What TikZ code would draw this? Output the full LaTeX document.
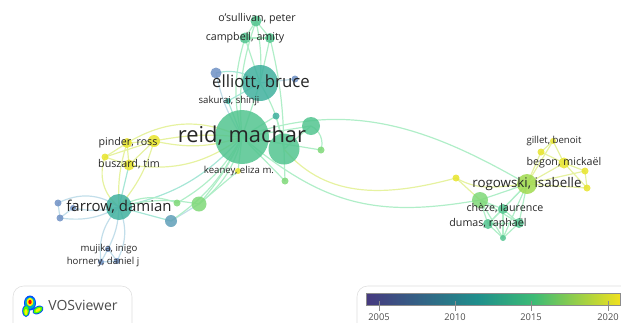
\documentclass[tikz,border=0pt]{standalone}
\usepackage{fontspec}
\setmainfont{Open Sans}
\usetikzlibrary{backgrounds}

\definecolor{cblue}{HTML}{6F90C4}
\definecolor{csteel}{HTML}{5F9FB8}
\definecolor{cteal}{HTML}{3FB09E}
\definecolor{cmint}{HTML}{52C48F}
\definecolor{cgreen}{HTML}{7FD878}
\definecolor{clime}{HTML}{A0DA4E}
\definecolor{cyell}{HTML}{E8E42C}
\definecolor{eblue}{HTML}{C2DEEA}
\definecolor{eteal}{HTML}{A6E6D6}
\definecolor{egreen}{HTML}{B0EEC8}
\definecolor{eyell}{HTML}{E6F2A0}
\definecolor{ltext}{HTML}{262626}
\definecolor{lframe}{HTML}{DDDDDD}
\definecolor{ya}{HTML}{46397F}
\definecolor{yb}{HTML}{1F8F8C}
\definecolor{yc}{HTML}{3CBB75}
\definecolor{yd}{HTML}{F0E11E}
\pgfdeclarehorizontalshading{yearbar}{100bp}{
  color(0bp)=(ya);
  color(25bp)=(ya);
  color(47bp)=(yb);
  color(58bp)=(yc);
  color(75bp)=(yd);
  color(100bp)=(yd)
}

\begin{document}
\begin{tikzpicture}[
    x=0.75pt, y=-0.75pt,
    every node/.style={text=ltext},
    dot/.style={circle, inner sep=0pt, minimum size=#1*0.75pt, fill opacity=0.85},
    lhuge/.style={font=\fontsize{16.4}{20}\selectfont},
    lbig/.style={font=\fontsize{12.6}{15}\selectfont},
    lmid/.style={font=\fontsize{11.2}{14}\selectfont},
    lrog/.style={font=\fontsize{10}{13}\selectfont},
    lsmall/.style={font=\fontsize{8}{10}\selectfont},
    ltiny/.style={font=\fontsize{7.2}{9}\selectfont},
    linkg/.style={egreen, line width=0.9pt},
    linkt/.style={eteal, line width=0.9pt},
    linkb/.style={eblue, line width=0.9pt},
    linky/.style={eyell, line width=0.9pt}
]
\clip (0,0) rectangle (621,322);
\useasboundingbox (0,0) rectangle (621,322);

% Top group
\node[dot=11, fill=cmint] (osull) at (256,21) {};
\node[dot=11, fill=cmint] (campa) at (245,38) {};
\node[dot=10, fill=cmint] (campb) at (270,38) {};
\node[dot=36, fill=cteal] (elliott) at (260,83) {};
\node[dot=11, fill=cblue] (bluea) at (216,73) {};
\node[dot=7, fill=cblue] (blueb) at (295,79) {};
\node[dot=6, fill=cteal] (sakurai) at (228,101) {};

% Centre group
\node[dot=54, fill=cmint] (reid) at (242,137) {};
\node[dot=31, fill=cmint] (reidb) at (284,149) {};
\node[dot=18, fill=cmint] (reidc) at (311,126) {};
\node[dot=7, fill=cteal] (reidd) at (276,116) {};
\node[dot=7, fill=cgreen] (reide) at (321,150) {};
\node[dot=7, fill=cgreen] (reidf) at (285,181) {};
\node[dot=6, fill=cyell] (keaney) at (238,171) {};

% Yellow group
\node[dot=10, fill=cyell] (pinder) at (127,143) {};
\node[dot=12, fill=cyell] (pinderb) at (154,141) {};
\node[dot=7, fill=cyell] (pinderc) at (105,157) {};
\node[dot=11, fill=cyell] (buszard) at (129,165) {};

% Farrow group
\node[dot=26, fill=cteal] (farrow) at (119,207) {};
\node[dot=7, fill=cblue] (farrowa) at (58,203) {};
\node[dot=6, fill=cblue] (farrowb) at (73,208) {};
\node[dot=7, fill=cblue] (farrowc) at (60,218) {};
\node[dot=12, fill=csteel] (farrowd) at (171,221) {};
\node[dot=15, fill=cgreen] (farrowe) at (199,204) {};
\node[dot=7, fill=cgreen] (farrowf) at (177,203) {};
\node[dot=6, fill=cblue] (mujika) at (108,249) {};
\node[dot=6, fill=cblue] (hornery) at (101,262) {};
\node[dot=6, fill=cblue] (horneryb) at (117,261) {};

% Right group
\node[dot=20, fill=clime] (rogowski) at (527,184) {};
\node[dot=16, fill=cgreen] (rogb) at (480,200) {};
\node[dot=7, fill=cyell] (roga) at (456,178) {};
\node[dot=6, fill=cyell] (gillet) at (553,141) {};
\node[dot=7, fill=cyell] (gilletb) at (541,152) {};
\node[dot=11, fill=cyell] (begon) at (564,163) {};
\node[dot=7, fill=cyell] (begonb) at (585,171) {};
\node[dot=7, fill=cyell] (begonc) at (587,188) {};
\node[dot=10, fill=cmint] (cheze) at (503,209) {};
\node[dot=10, fill=cmint] (dumas) at (488,224) {};
\node[dot=10, fill=cmint] (dumasb) at (519,223) {};
\node[dot=6, fill=cmint] (dumasc) at (503,238) {};

% Links
\begin{scope}[on background layer]
\draw[linkg] (osull.center) -- (campa.center);
\draw[linkg] (osull.center) -- (campb.center);
\draw[linkg] (osull.center) to[bend left=8] (elliott.center);
\draw[linkg] (osull.center) to[bend right=12] (reid.center);
\draw[linkg] (campa.center) -- (campb.center);
\draw[linkg] (campa.center) -- (elliott.center);
\draw[linkg] (campb.center) -- (elliott.center);
\draw[linkg] (campa.center) to[bend right=15] (reid.center);
\draw[linkg] (campb.center) to[bend left=6] (reidb.center);
\draw[linkt] (bluea.center) to[bend left=25] (elliott.center);
\draw[linkb] (bluea.center) to[bend right=10] (reid.center);
\draw[linkb] (blueb.center) -- (elliott.center);
\draw[linkt] (sakurai.center) -- (elliott.center);
\draw[linkt] (sakurai.center) -- (reid.center);
\draw[linkg] (elliott.center) -- (reid.center);
\draw[linkg] (elliott.center) to[bend left=10] (reidb.center);
\draw[linkg] (reidd.center) -- (reid.center);
\draw[linkg] (reidd.center) -- (reidb.center);
\draw[linkg] (reid.center) -- (reidc.center);
\draw[linkg] (reidb.center) -- (reidc.center);
\draw[linkg] (reidc.center) to[bend left=40] (reide.center);
\draw[linkg] (reid.center) -- (reide.center);
\draw[linkg] (reid.center) -- (reidf.center);
\draw[linkg] (reidb.center) -- (reidf.center);

\draw[linky] (pinder.center) to[bend left=28] (reid.center);
\draw[linky] (pinderb.center) to[bend left=8] (reid.center);
\draw[linky] (pinderb.center) to[bend right=15] (reid.center);
\draw[linky] (buszard.center) to[bend right=22] (reid.center);
\draw[linky] (pinder.center) -- (pinderb.center);
\draw[linky] (pinder.center) -- (buszard.center);
\draw[linky] (pinder.center) -- (pinderc.center);
\draw[linky] (pinderb.center) -- (buszard.center);
\draw[linky] (pinderb.center) -- (pinderc.center);
\draw[linky] (pinderc.center) -- (buszard.center);
\draw[linky] (pinderc.center) to[bend right=35] (farrow.center);
\draw[linky] (pinder.center) to[bend right=10] (farrow.center);
\draw[linky] (pinderb.center) to[bend left=12] (farrow.center);
\draw[linkt] (buszard.center) -- (farrow.center);
\draw[linkt] (farrow.center) to[bend right=18] (reid.center);

\draw[linkb] (farrow.center) to[bend right=30] (farrowa.center);
\draw[linkb] (farrow.center) to[bend left=12] (farrowb.center);
\draw[linkb] (farrow.center) to[bend left=18] (farrowc.center);
\draw[linkb] (farrowa.center) -- (farrowc.center);
\draw[linkb] (farrowb.center) -- (farrowc.center);
\draw[linkb] (farrow.center) to[bend left=12] (mujika.center);
\draw[linkb] (farrow.center) to[bend right=25] (hornery.center);
\draw[linkb] (farrow.center) to[bend left=25] (horneryb.center);
\draw[linkb] (mujika.center) -- (hornery.center);
\draw[linkb] (mujika.center) -- (horneryb.center);
\draw[linkb] (hornery.center) -- (horneryb.center);
\draw[linkt] (farrow.center) -- (farrowd.center);
\draw[linkg] (farrow.center) to[bend left=25] (farrowf.center);
\draw[linkg] (farrow.center) to[bend left=12] (farrowe.center);
\draw[linkb] (farrowd.center) -- (farrowe.center);
\draw[linkg] (farrowd.center) to[bend right=15] (reid.center);
\draw[linkg] (farrowe.center) to[bend right=8] (reid.center);
\draw[linkg] (farrowe.center) to[bend right=18] (reid.center);
\draw[linkg] (farrowf.center) to[bend right=15] (reid.center);
\draw[linkg] (keaney.center) -- (farrowe.center);
\draw[linkg] (keaney.center) -- (reid.center);

% Long links to the right group
\draw[linkg] (reid.center) to[out=20, in=150] (rogowski.center);
\draw[linky] (reidb.center) to[out=-50, in=195] (roga.center);
\draw[linkg] (reid.center) to[out=-40, in=190, looseness=1.1] (rogb.center);
\draw[linky] (roga.center) to[out=-30, in=185] (rogowski.center);
\draw[linky] (roga.center) -- (rogb.center);

\draw[linky] (rogowski.center) -- (gillet.center);
\draw[linky] (rogowski.center) -- (gilletb.center);
\draw[linky] (rogowski.center) -- (begon.center);
\draw[linky] (rogowski.center) -- (begonb.center);
\draw[linky] (rogowski.center) -- (begonc.center);
\draw[linky] (gillet.center) -- (gilletb.center);
\draw[linky] (gillet.center) -- (begon.center);
\draw[linky] (gilletb.center) -- (begon.center);
\draw[linky] (begon.center) -- (begonb.center);
\draw[linky] (begon.center) -- (begonc.center);
\draw[linky] (begonb.center) -- (begonc.center);
\draw[linkg] (rogowski.center) -- (rogb.center);
\draw[linkg] (rogowski.center) -- (cheze.center);
\draw[linkg] (rogowski.center) -- (dumas.center);
\draw[linkg] (rogowski.center) -- (dumasb.center);
\draw[linkg] (rogowski.center) -- (dumasc.center);
\draw[linkg] (rogb.center) -- (cheze.center);
\draw[linkg] (rogb.center) -- (dumas.center);
\draw[linkg] (rogb.center) -- (dumasb.center);
\draw[linkg] (rogb.center) -- (dumasc.center);
\draw[linkg] (cheze.center) -- (dumas.center);
\draw[linkg] (cheze.center) -- (dumasb.center);
\draw[linkg] (cheze.center) -- (dumasc.center);
\draw[linkg] (dumas.center) -- (dumasb.center);
\draw[linkg] (dumas.center) -- (dumasc.center);
\draw[linkg] (dumasb.center) -- (dumasc.center);
\end{scope}

% Labels
\node[lsmall] (losull) at (257,19) {o'sullivan, peter};
\node[lsmall] (lcamp) at (245,38) {campbell, amity};
\node[lbig] (lelliott) at (261,82) {elliott, bruce};
\node[ltiny] (lsakurai) at (229,101) {sakurai, shinji};
\node[lhuge] (lreid) at (242,136) {reid, machar};
\node[lsmall] (lpinder) at (128,143) {pinder, ross};
\node[lsmall] (lbuszard) at (129,164) {buszard, tim};
\node[ltiny] (lkeaney) at (239,171) {keaney, eliza m.};
\node[lmid] (lfarrow) at (119,207) {farrow, damian};
\node[ltiny] (lmujika) at (109,249) {mujika, inigo};
\node[ltiny] (lhornery) at (103,262) {hornery, daniel j};
\node[lrog] (lrogowski) at (527,184) {rogowski, isabelle};
\node[ltiny] (lgillet) at (554,141) {gillet, benoit};
\node[lsmall] (lbegon) at (564,163) {begon, mickaël};
\node[lsmall] (lcheze) at (505,208) {chèze, laurence};
\node[lsmall] (ldumas) at (488,224) {dumas, raphaël};

% Logo box
\draw[lframe, rounded corners=8pt] (13,286) rectangle (132,335);
\fill[blue!70!cyan] (30,303) circle (6 and 7.5);
\fill[blue!70!cyan] (26,311) circle (3.8 and 6);
\fill[blue!70!cyan, rotate around={30:(38,310)}] (38,310) circle (6 and 3.8);
\fill[cyan!70!green] (30,303) circle (5 and 6.2);
\fill[green!70!yellow] (26,311) circle (2.9 and 5);
\fill[green!70!yellow, rotate around={30:(38,310)}] (38,310) circle (5 and 2.9);
\fill[yellow] (30,302) circle (3.4 and 4.2);
\fill[yellow] (26,312) circle (1.6 and 3);
\fill[yellow, rotate around={30:(38,310)}] (38,310) circle (3 and 1.5);
\fill[red] (30,302) circle (1.7 and 2.2);
\node[font=\fontsize{10.5}{13}\selectfont, text=black!70] (lvos) at (83,305) {VOSviewer};

% Year bar
\draw[lframe, rounded corners=8pt] (357,286) rectangle (640,335);
\shade[shading=yearbar, draw=black!45] (366,293) rectangle (620,305);
\foreach \xtick/\ytext in {379/2005,455/2010,531/2015,608/2020} {
  \draw[black!45] (\xtick,301) -- (\xtick,311);
  \node[font=\fontsize{7}{9}\selectfont, text=black!70] at (\xtick,317) {\ytext};
}

\end{tikzpicture}
\end{document}
